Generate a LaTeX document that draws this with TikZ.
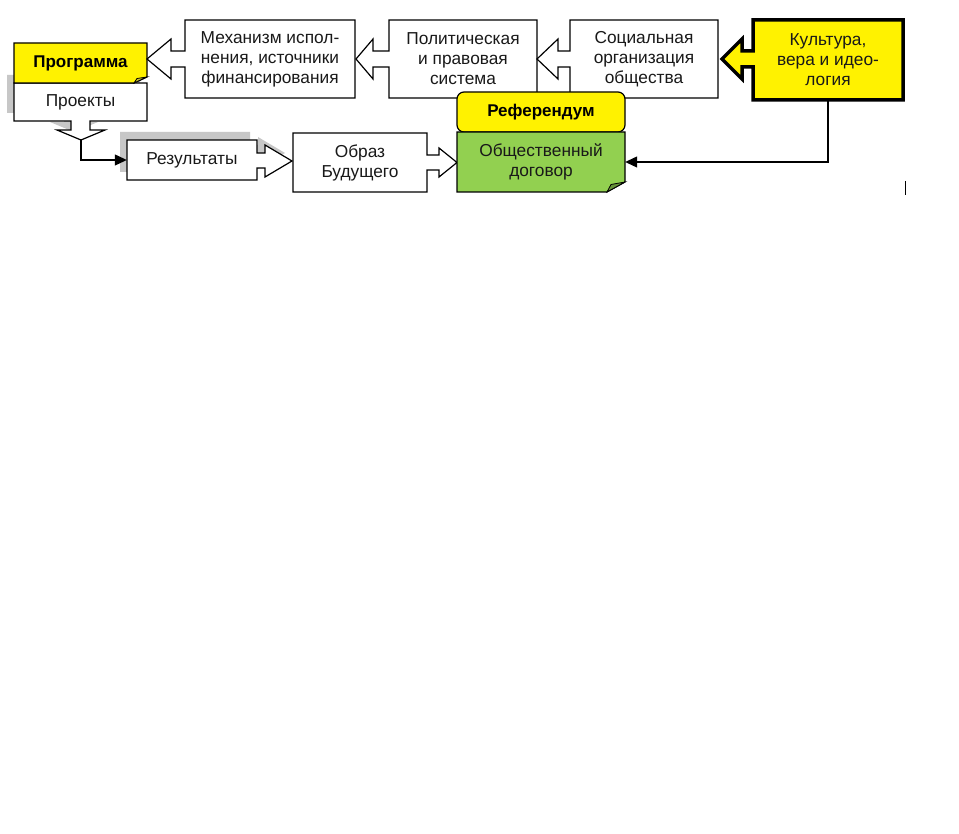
\documentclass[tikz,border=0pt]{standalone}
\usepackage{fontspec}
\setmainfont{Liberation Sans}
\usetikzlibrary{arrows.meta,calc}
\definecolor{ygreen}{RGB}{146,208,80}
\begin{document}
\begin{tikzpicture}[x=1pt,y=-1pt,
  outline/.style={draw=black, line width=1.2pt, line join=miter},
  shadowfill/.style={fill=black!22},
  lbl/.style={align=center, inner sep=0pt, font=\fontsize{17.3}{20}\selectfont, text=black!90},
  blbl/.style={align=center, inner sep=0pt, font=\fontsize{17}{20}\selectfont\bfseries, text=black},
  conn/.style={draw=black, line width=1.2pt, -{Triangle[length=12pt,width=11pt]}}]
\useasboundingbox (0,0) rectangle (959,834);
\fill[white] (0,0) rectangle (959,834);

% shadows
\fill[shadowfill, shift={(-7,-8)}] (14,83) -- (147,83) -- (147,121) -- (90,121) -- (90,130) -- (105,130) -- (81,140) -- (57,130) -- (71,130) -- (71,121) -- (14,121) -- cycle;
\fill[shadowfill, shift={(-7,-8)}] (127,140) -- (257,140) -- (257,153) -- (265,153) -- (265,145) -- (292,161) -- (265,177) -- (265,168) -- (257,168) -- (257,180) -- (127,180) -- cycle;

% Проекты (box with down arrow)
\draw[outline, fill=white] (14,83) -- (147,83) -- (147,121) -- (90,121) -- (90,130) -- (105,130) -- (81,140) -- (57,130) -- (71,130) -- (71,121) -- (14,121) -- cycle;
% Программа (folded corner)
\draw[outline, fill=yellow] (14,43) -- (147,43) -- (147,77) -- (134,83) -- (14,83) -- cycle;
\draw[line width=0.8pt, fill=yellow!75!black] (134,83) -- (147,77) -- (137,78.5) -- cycle;

% Результаты (box with right arrow)
\draw[outline, fill=white] (127,140) -- (257,140) -- (257,153) -- (265,153) -- (265,145) -- (292,161) -- (265,177) -- (265,168) -- (257,168) -- (257,180) -- (127,180) -- cycle;
% Образ Будущего
\draw[outline, fill=white] (293,133) -- (427,133) -- (427,155) -- (439,155) -- (439,148) -- (457,162.5) -- (439,177) -- (439,170) -- (427,170) -- (427,192) -- (293,192) -- cycle;

% top row (boxes with left arrows)
\draw[outline, fill=white] (185,20) -- (355,20) -- (355,98) -- (185,98) -- (185,67) -- (171,67) -- (171,79) -- (147,59) -- (171,39) -- (171,51) -- (185,51) -- cycle;
\draw[outline, fill=white] (389,20) -- (537,20) -- (537,98) -- (389,98) -- (389,67) -- (373,67) -- (373,79) -- (356,59) -- (373,39) -- (373,51) -- (389,51) -- cycle;
\draw[outline, fill=white] (570,20) -- (718,20) -- (718,98) -- (570,98) -- (570,67) -- (558,67) -- (558,79) -- (537,59) -- (558,39) -- (558,51) -- (570,51) -- cycle;
\draw[draw=black, line width=3.5pt, line join=miter, fill=yellow] (753,20) -- (903,20) -- (903,100) -- (753,100) -- (753,67) -- (742,67) -- (742,79) -- (722,59) -- (742,39) -- (742,51) -- (753,51) -- cycle;

% Референдум and Общественный договор (on top of the row above)
\draw[outline, fill=yellow, rounded corners=7pt] (457,92) rectangle (625,132);
\draw[outline, fill=ygreen] (457,132) -- (625,132) -- (625,182) -- (607,192) -- (457,192) -- cycle;
\draw[line width=0.8pt, fill=ygreen!70!black] (607,192) -- (625,182) -- (611,184.5) -- cycle;

% labels
\node[blbl, minimum width=133pt, minimum height=40pt] (prog) at (80.5,63) {Программа};
\node[lbl, minimum width=133pt, minimum height=38pt] (proj) at (80.5,102) {Проекты};
\node[lbl, minimum width=130pt, minimum height=40pt] (res) at (192,160) {Результаты};
\node[lbl, minimum width=134pt, minimum height=59pt] (obraz) at (360,162.5) {Образ\\Будущего};
\node[blbl, minimum width=168pt, minimum height=40pt] (ref) at (541,112) {Референдум};
\node[lbl, minimum width=168pt, minimum height=60pt] (obsh) at (541,162) {Общественный\\договор};
\node[lbl, minimum width=170pt, minimum height=78pt] (mech) at (270,59) {Механизм испол-\\нения, источники\\финансирования};
\node[lbl, minimum width=148pt, minimum height=78pt] (pol) at (463,59) {Политическая\\и правовая\\система};
\node[lbl, minimum width=148pt, minimum height=78pt] (soc) at (644,59) {Социальная\\организация\\общества};
\node[lbl, minimum width=150pt, minimum height=80pt] (kult) at (828,60) {Культура,\\вера и идео-\\логия};

% connectors
\coordinate (projtip) at (81,140);
\draw[conn] (projtip) |- (res.west);
\draw[conn] (kult.south) |- (obsh.east);

% stray cursor mark
\coordinate (curtop) at (905,181);
\coordinate (curbot) at (905,195);
\draw[line width=1pt] (curtop) -- (curbot);
\end{tikzpicture}
\end{document}
